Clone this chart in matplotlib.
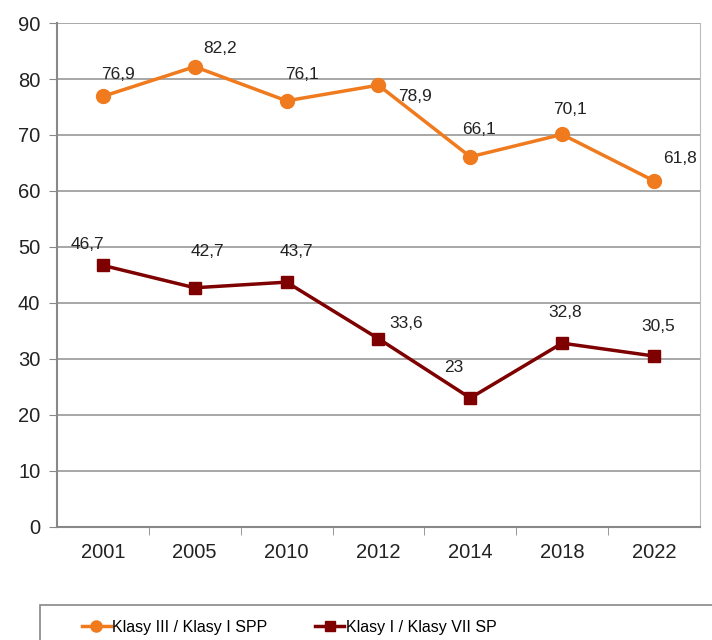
import matplotlib.pyplot as plt
from matplotlib.patches import Rectangle

plt.rcParams['font.family'] = ['Liberation Sans', 'DejaVu Sans']

years = ["2001", "2005", "2010", "2012", "2014", "2018", "2022"]
klasy_iii = [76.9, 82.2, 76.1, 78.9, 66.1, 70.1, 61.8]
klasy_i = [46.7, 42.7, 43.7, 33.6, 23, 32.8, 30.5]
label_iii = "Klasy III / Klasy I SPP"
label_i = "Klasy I / Klasy VII SP"

orange = "#F07A1E"
darkred = "#7E0000"

# label offsets in points (dx, dy)
off_iii = [(11, 16), (18, 13), (11, 19), (26, -8), (6, 20), (6, 18), (19, 16)]
off_i = [(-11, 15), (9, 26), (7, 22), (20, 11), (-12, 22), (2, 22), (3, 21)]


def fmt(v):
    s = ("%g" % v).replace(".", ",")
    return s


fig = plt.figure(figsize=(7.12, 6.4), dpi=100)
ax = fig.add_axes([0.080, 0.177, 0.903, 0.787])

x = range(len(years))
ax.plot(x, klasy_iii, color=orange, lw=2.5, marker="o", ms=10,
        markerfacecolor=orange, markeredgecolor=orange, label=label_iii, zorder=3)
ax.plot(x, klasy_i, color=darkred, lw=2.5, marker="s", ms=9,
        markerfacecolor=darkred, markeredgecolor=darkred, label=label_i, zorder=3)

for i, v in enumerate(klasy_iii):
    ax.annotate(fmt(v), (i, v), xytext=off_iii[i], textcoords="offset points",
                ha="center", va="center", fontsize=12.5, color="#222222")
for i, v in enumerate(klasy_i):
    ax.annotate(fmt(v), (i, v), xytext=off_i[i], textcoords="offset points",
                ha="center", va="center", fontsize=12.5, color="#222222")

ax.set_xlim(-0.5, len(years) - 0.5)
ax.set_ylim(0, 90)
ax.set_yticks(range(0, 91, 10))
ax.set_xticks(x)
ax.set_xticklabels(years)
ax.set_xticks([i + 0.5 for i in range(len(years) - 1)], minor=True)
ax.tick_params(axis="x", which="major", length=0, labelsize=14.5, colors="#222222", pad=12)
ax.tick_params(axis="x", which="minor", length=6, color="#888888", direction="out")
ax.tick_params(axis="y", length=6, labelsize=14.5, direction="out", pad=6,
               color="#888888", labelcolor="#222222")
ax.grid(axis="y", color="#8f8f8f", lw=1.1)
ax.set_axisbelow(True)
for s in ["left", "bottom"]:
    ax.spines[s].set_color("#888888")
    ax.spines[s].set_linewidth(1.5)
ax.spines["right"].set_color("#bbbbbb")
ax.spines["top"].set_visible(False)

# legend box that runs off the bottom/right edge
fig.patches.append(Rectangle((0.056, -0.1), 1.0, 0.155, transform=fig.transFigure,
                             fill=False, edgecolor="#888888", lw=1.2))
handles, labels = ax.get_legend_handles_labels()
leg = fig.legend(handles, labels, loc="center left", bbox_to_anchor=(0.115, 0.02),
                 ncol=2, frameon=False, fontsize=11.5, handlelength=1.8,
                 handletextpad=0.1, columnspacing=3.0, markerscale=0.8,
                 borderpad=0, borderaxespad=0)

fig.savefig("out.png", dpi=100)
